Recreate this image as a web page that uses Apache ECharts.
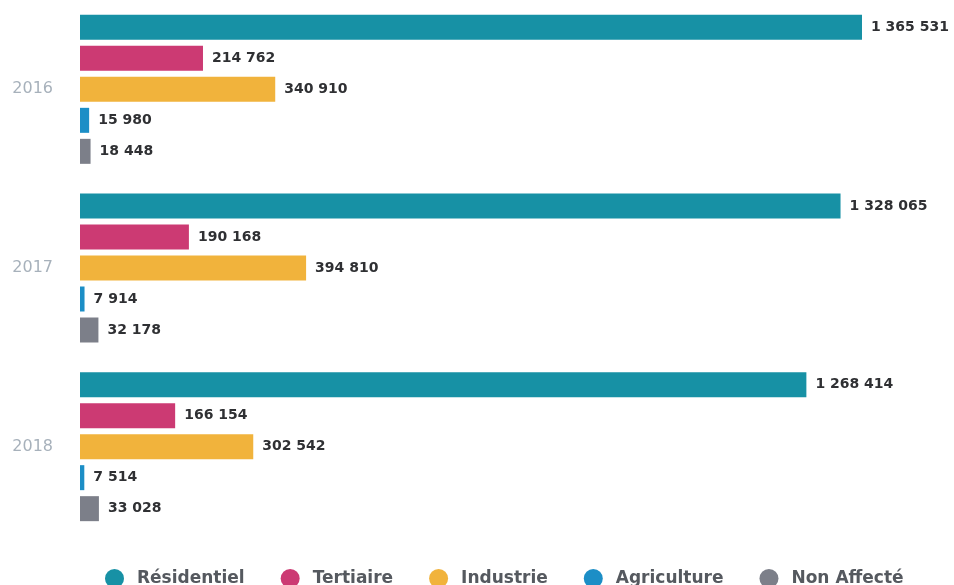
<!DOCTYPE html>
<html>
<head>
<meta charset="utf-8">
<script src="https://cdn.jsdelivr.net/npm/echarts@6/dist/echarts.min.js"></script>
<style>
  html, body { margin: 0; padding: 0; background: #fff; }
  #main { width: 954px; height: 585px; }
</style>
</head>
<body>
<div id="main"></div>
<script>
var years = ['2016', '2017', '2018'];
var residentiel = [1365531, 1328065, 1268414];
var tertiaire = [214762, 190168, 166154];
var industrie = [340910, 394810, 302542];
var agriculture = [15980, 7914, 7514];
var nonAffecte = [18448, 32178, 33028];

var seriesNames = ['Résidentiel', 'Tertiaire', 'Industrie', 'Agriculture', 'Non Affecté'];
var seriesData = [residentiel, tertiaire, industrie, agriculture, nonAffecte];
var colors = ['#1791a5', '#cc3a73', '#f1b33c', '#1c8ec6', '#7c7f89'];

function fmt(v) {
    return String(v).replace(/\B(?=(\d{3})+(?!\d))/g, ' ');
}

var myChart = echarts.init(document.getElementById('main'));

var series = [];
for (let i = 0; i < seriesNames.length; i++) {
    series.push({
        name: seriesNames[i],
        type: 'bar',
        data: seriesData[i],
        barWidth: 25,
        barGap: '24%',
        itemStyle: { color: colors[i] },
        label: {
            show: true,
            position: 'right',
            distance: 9,
            color: '#2f3033',
            fontFamily: 'DejaVu Sans',
            fontWeight: 'bold',
            fontSize: 14,
            formatter: function (p) { return fmt(p.value); }
        }
    });
}

myChart.setOption({
    animation: false,
    color: colors,
    grid: { left: 80, right: 15, top: -7, bottom: 49 },
    legend: {
        data: seriesNames,
        left: 100,
        top: 564,
        icon: 'circle',
        itemWidth: 19,
        itemHeight: 19,
        itemGap: 36,
        textStyle: {
            fontFamily: 'DejaVu Sans',
            fontWeight: 'bold',
            fontSize: 17,
            color: '#55595f',
            padding: [0, 0, 0, 8]
        }
    },
    xAxis: {
        type: 'value',
        min: 0,
        max: 1500000,
        show: false,
        splitLine: { show: false }
    },
    yAxis: {
        type: 'category',
        data: years,
        inverse: true,
        axisLine: { show: false },
        axisTick: { show: false },
        axisLabel: {
            margin: 27,
            color: '#a7b1bb',
            fontFamily: 'DejaVu Sans',
            fontSize: 16
        }
    },
    series: series
});
</script>
</body>
</html>
